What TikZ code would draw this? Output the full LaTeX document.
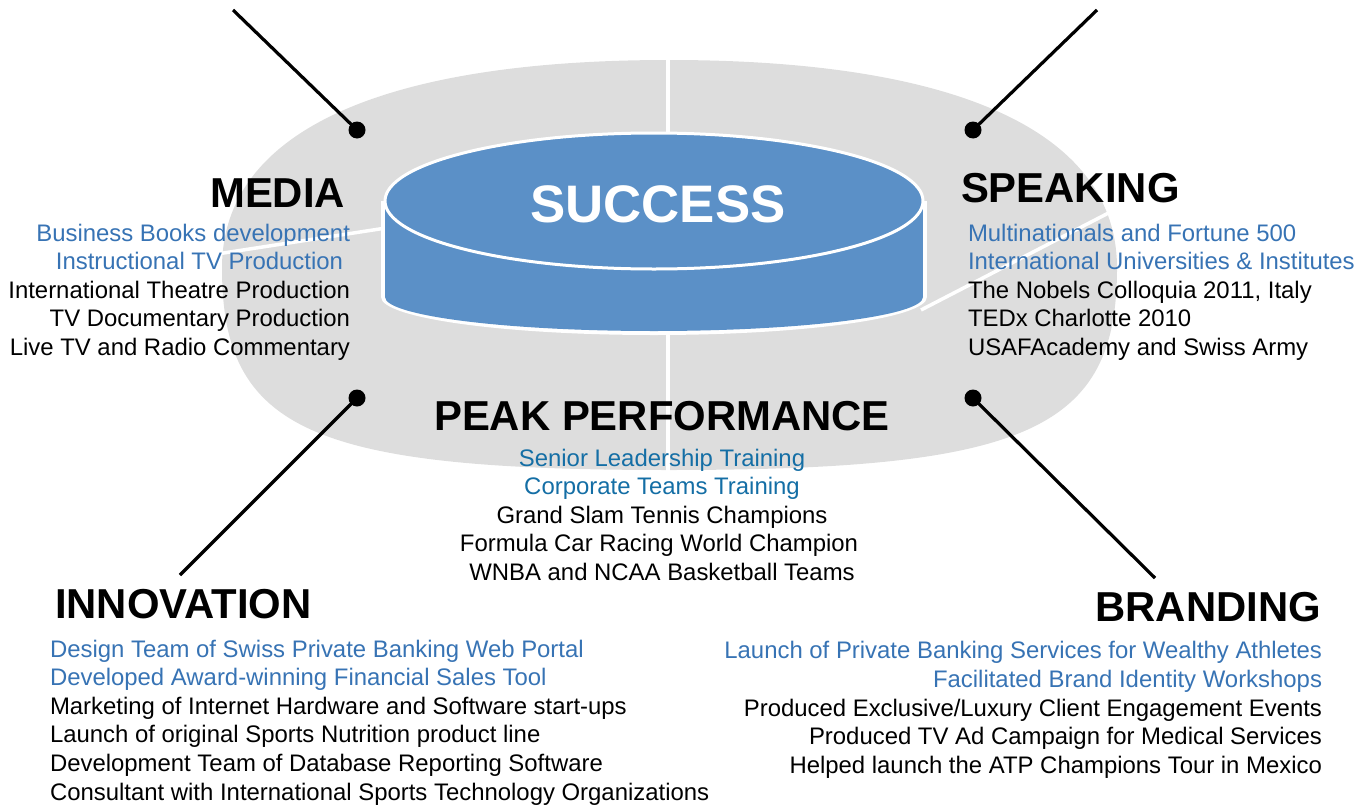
\documentclass[tikz,border=0pt]{standalone}
\usepackage{fontspec}
\setmainfont{Liberation Sans}
\definecolor{ringgrey}{RGB}{221,221,221}
\definecolor{cyl}{RGB}{91,144,199}
\definecolor{bluetxt}{RGB}{55,115,180}
\definecolor{tealtxt}{RGB}{20,110,165}
\begin{document}
\begin{tikzpicture}[x=1bp,y=-1bp,
  txt/.style={font=\fontsize{24}{28.6}\selectfont, inner sep=0pt, outer sep=0pt},
  hl/.style={txt, text=bluetxt},
  hlt/.style={txt, text=tealtxt},
  head/.style={font=\fontsize{42}{48}\selectfont\bfseries, inner sep=0pt, outer sep=0pt},
  conn/.style={line width=3.2bp, black},
  dot/.style={circle, fill=black, minimum size=17bp, inner sep=0pt},
  gap/.style={white, line width=4bp}]
\useasboundingbox (0,0) rectangle (1358,805);
% grey ring
\fill[ringgrey] (669,60) .. controls (378,60) and (222,133) .. (222,268)
  .. controls (222,430) and (311,470) .. (669,470)
  .. controls (1027,470) and (1117,430) .. (1117,268)
  .. controls (1117,133) and (960,60) .. (669,60) -- cycle;
% dividers
\draw[gap] (668,55) -- (668,140);
\draw[gap] (668,320) -- (668,476);
\draw[gap, line width=3.5bp] (217,254) -- (386,228);
\draw[gap, line width=3.5bp] (1122,206) -- (921,310);
% cylinder
\fill[white] (654,297) ellipse [x radius=273, y radius=38];
\fill[white] (381,201) rectangle (927,297);
\fill[cyl] (654,297) ellipse [x radius=269, y radius=34];
\fill[cyl] (385,201) rectangle (923,297);
\draw[white, line width=3bp, fill=cyl] (654,201) ellipse [x radius=269, y radius=68];
\node[font=\fontsize{53}{60}\selectfont\bfseries, text=white, inner sep=0pt, anchor=base] (succ) at (658,222) {SUCCESS};
% connectors
\node[dot] (d1) at (357,130) {};
\node[dot] (d2) at (973,130) {};
\node[dot] (d3) at (357,398) {};
\node[dot] (d4) at (973,398) {};
\coordinate (e1) at (233,10);
\coordinate (e2) at (1097,10);
\coordinate (e3) at (180,575);
\coordinate (e4) at (1155,578);
\draw[conn] (e1) -- (d1.center);
\draw[conn] (e2) -- (d2.center);
\draw[conn] (d3.center) -- (e3);
\draw[conn] (d4.center) -- (e4);
% MEDIA
\node[head, anchor=base east] (hmedia) at (345,207) {MEDIA};
\node[hl, anchor=base east] (m1) at (350,241) {Business Books development};
\node[hl, anchor=base east] (m2) at (343,269.6) {Instructional TV Production};
\node[txt, anchor=base east] (m3) at (350,298.2) {International Theatre Production};
\node[txt, anchor=base east] (m4) at (350,326.8) {TV Documentary Production};
\node[txt, anchor=base east] (m5) at (350,355.4) {Live TV and Radio Commentary};
% SPEAKING
\node[head, anchor=base west] (hspeak) at (961,202) {SPEAKING};
\node[hl, anchor=base west] (s1) at (968,241) {Multinationals and Fortune 500};
\node[hl, anchor=base west] (s2) at (968,269.6) {International Universities \& Institutes};
\node[txt, anchor=base west] (s3) at (968,298.2) {The Nobels Colloquia 2011, Italy};
\node[txt, anchor=base west] (s4) at (968,326.8) {TEDx Charlotte 2010};
\node[txt, anchor=base west] (s5) at (968,355.4) {USAFAcademy and Swiss Army};
% PEAK PERFORMANCE
\node[head, anchor=base] (hpeak) at (662,430) {PEAK PERFORMANCE};
\node[hlt, anchor=base] (p1) at (662,466) {Senior Leadership Training};
\node[hlt, anchor=base] (p2) at (662,494.6) {Corporate Teams Training};
\node[txt, anchor=base] (p3) at (662,523.2) {Grand Slam Tennis Champions};
\node[txt, anchor=base] (p4) at (659,551.8) {Formula Car Racing World Champion};
\node[txt, anchor=base] (p5) at (662,580.4) {WNBA and NCAA Basketball Teams};
% INNOVATION
\node[head, anchor=base west] (hinno) at (55,618) {INNOVATION};
\node[hl, anchor=base west] (i1) at (50,657) {Design Team of Swiss Private Banking Web Portal};
\node[hl, anchor=base west] (i2) at (50,685.6) {Developed Award-winning Financial Sales Tool};
\node[txt, anchor=base west] (i3) at (50,714.2) {Marketing of Internet Hardware and Software start-ups};
\node[txt, anchor=base west] (i4) at (50,742.8) {Launch of original Sports Nutrition product line};
\node[txt, anchor=base west] (i5) at (50,771.4) {Development Team of Database Reporting Software};
\node[txt, anchor=base west] (i6) at (50,800) {Consultant with International Sports Technology Organizations};
% BRANDING
\node[head, anchor=base east] (hbrand) at (1321,621.5) {BRANDING};
\node[hl, anchor=base east] (b1) at (1322,658.5) {Launch of Private Banking Services for Wealthy Athletes};
\node[hl, anchor=base east] (b2) at (1322,687.2) {Facilitated Brand Identity Workshops};
\node[txt, anchor=base east] (b3) at (1322,716) {Produced Exclusive/Luxury Client Engagement Events};
\node[txt, anchor=base east] (b4) at (1322,744.8) {Produced TV Ad Campaign for Medical Services};
\node[txt, anchor=base east] (b5) at (1322,773.5) {Helped launch the ATP Champions Tour in Mexico};
\end{tikzpicture}
\end{document}
